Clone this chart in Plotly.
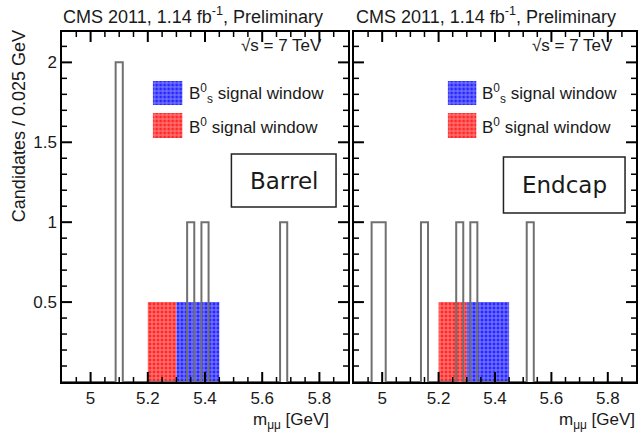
import numpy as np
import plotly.graph_objects as go

# ---------------- data ----------------
bin_width = 0.025
barrel_centers = [5.100, 5.350, 5.400, 5.675]
barrel_counts = [2, 1, 1, 1]
endcap_centers = [4.975, 5.000, 5.150, 5.275, 5.325, 5.525]
endcap_counts = [1, 1, 1, 1, 1, 1]
b0_window = [5.20, 5.30]
bs_window = [5.30, 5.45]
window_height = 0.5
x_range = [4.9, 5.9]
y_range = [0, 2.19]
x_ticks = [5.0, 5.2, 5.4, 5.6, 5.8]
y_ticks = [0.0, 0.5, 1.0, 1.5, 2.0]
y_hidden_labels = {"0": " "}
panel_names = ["Barrel", "Endcap"]

edges = np.arange(4.8875, 5.9125 + 1e-9, bin_width)


def step(centers, counts):
    h = np.zeros(len(edges) - 1)
    for c, n in zip(centers, counts):
        i = int(round((c - edges[0]) / bin_width - 0.5))
        h[i] += n
    xs = np.repeat(edges, 2)[1:-1]
    ys = np.repeat(h, 2)
    return xs, ys


FONT = "Liberation Sans, Arial, sans-serif"
TXT = "#1a1a1a"
RED_BG = "rgb(255,40,40)"
BLUE_BG = "rgb(40,40,255)"

# pixel helpers (plot area: x 62..638, y 32..382)
L, R, T, B = 62, 638, 32, 382
W, H = R - L, B - T


def px(x):
    return (x - L) / W


def py(y):
    return (B - y) / H


def pattern(color):
    return dict(shape="+", fgcolor="rgba(255,255,255,0.85)", bgcolor=color,
                size=4, solidity=0.45)


fig = go.Figure()


def window_bar(win, color, xa, ya):
    return go.Bar(
        x=[(win[0] + win[1]) / 2], y=[window_height], width=[win[1] - win[0]],
        xaxis=xa, yaxis=ya, showlegend=False,
        marker=dict(color=color, line=dict(width=0), pattern=pattern(color)),
        hoverinfo="skip")


panels = [("x", "y", barrel_centers, barrel_counts),
          ("x2", "y2", endcap_centers, endcap_counts)]
for xa, ya, cen, cnt in panels:
    fig.add_trace(window_bar(b0_window, RED_BG, xa, ya))
    fig.add_trace(window_bar(bs_window, BLUE_BG, xa, ya))
    xs, ys = step(cen, cnt)
    fig.add_trace(go.Scatter(x=xs, y=ys, mode="lines", xaxis=xa, yaxis=ya,
                             line=dict(color="#707070", width=2),
                             showlegend=False, hoverinfo="skip"))

# legend patches on hidden axes
leg_axes = [("x3", "y3"), ("x4", "y4")]
for xa, ya in leg_axes:
    fig.add_trace(go.Bar(x=[0], y=[0.42], base=[0.58], width=[1], xaxis=xa, yaxis=ya,
                         showlegend=False, hoverinfo="skip",
                         marker=dict(color=BLUE_BG, line=dict(width=0), pattern=pattern(BLUE_BG))))
    fig.add_trace(go.Bar(x=[0], y=[0.44], base=[0.0], width=[1], xaxis=xa, yaxis=ya,
                         showlegend=False, hoverinfo="skip",
                         marker=dict(color=RED_BG, line=dict(width=0), pattern=pattern(RED_BG))))

axis_common = dict(showline=True, linecolor="black", linewidth=1.5, mirror=True,
                   ticks="", showgrid=False, zeroline=False,
                   tickfont=dict(family=FONT, size=17, color=TXT))
xaxis_ticks = dict(tickmode="linear", tick0=x_ticks[0], dtick=x_ticks[1] - x_ticks[0])
yaxis_ticks = dict(tickmode="linear", tick0=y_ticks[0], dtick=y_ticks[1] - y_ticks[0],
                   labelalias=y_hidden_labels)

LEFT_W, RIGHT_W = 349 - L, R - 355

fig.update_layout(
    width=642, height=437,
    margin=dict(l=L, r=642 - R, t=T, b=437 - B),
    paper_bgcolor="white", plot_bgcolor="white",
    barmode="overlay", showlegend=False,
    xaxis=dict(domain=[0, px(349)], range=x_range, anchor="y", **xaxis_ticks, **axis_common),
    xaxis2=dict(domain=[px(355), 1], range=x_range, anchor="y2", **xaxis_ticks, **axis_common),
    yaxis=dict(domain=[0, 1], range=y_range, anchor="x", **yaxis_ticks, **axis_common),
    yaxis2=dict(domain=[0, 1], range=y_range, anchor="x2", showticklabels=False,
                **yaxis_ticks, **axis_common),
    xaxis3=dict(domain=[px(153), px(183)], range=[-0.5, 0.5], anchor="y3", visible=False),
    yaxis3=dict(domain=[py(138), py(81)], range=[0, 1], anchor="x3", visible=False),
    xaxis4=dict(domain=[px(449), px(478)], range=[-0.5, 0.5], anchor="y4", visible=False),
    yaxis4=dict(domain=[py(138), py(81)], range=[0, 1], anchor="x4", visible=False),
)

ann = []


def text(x, y, s, size=17, xanchor="left", family=FONT, yanchor="middle"):
    ann.append(dict(x=px(x), y=py(y), xref="paper", yref="paper", text=s, showarrow=False,
                    xanchor=xanchor, yanchor=yanchor,
                    font=dict(family=family, size=size, color=TXT)))


title = "CMS 2011, 1.14 fb<sup>-1</sup>, Preliminary"
text(61, 15, title, size=18)
text(355, 15, title, size=18)
text(325, 45, "√s = 7 TeV", size=17, xanchor="right")
text(617, 45, "√s = 7 TeV", size=17, xanchor="right")
# legends
text(187, 93, "B<sup>0</sup><sub>s</sub> signal window", size=17)
text(187, 126, "B<sup>0</sup> signal window", size=17)
text(481, 93, "B<sup>0</sup><sub>s</sub> signal window", size=17)
text(481, 126, "B<sup>0</sup> signal window", size=17)
# axis titles
text(332, 421, "m<sub>μμ</sub> [GeV]", size=17, xanchor="right")
text(639, 421, "m<sub>μμ</sub> [GeV]", size=17, xanchor="right")
ann.append(dict(x=px(19), y=py(28), xref="paper", yref="paper",
                text="Candidates / 0.025 GeV", showarrow=False, textangle=-90,
                xanchor="center", yanchor="top",
                font=dict(family=FONT, size=18, color=TXT)))
# panel labels
text(284.5, 181, panel_names[0], size=23, xanchor="center", family="DejaVu Sans")
text(566, 185, panel_names[1], size=23, xanchor="center", family="DejaVu Sans")
fig.update_layout(annotations=ann)

shapes = []
for (x0, y0, x1, y1) in [(232, 154, 337, 207), (505, 157, 627, 213)]:
    shapes.append(dict(type="rect", xref="paper", yref="paper",
                       x0=px(x0), x1=px(x1), y0=py(y1), y1=py(y0),
                       line=dict(color="#222222", width=1.5), fillcolor="white"))

# inside tick marks on all four sides of both frames (positions from the tick arrays)
x_minor = [v for v in np.round(np.arange(x_range[0] + 0.05, x_range[1] - 0.01, 0.05), 3)
           if all(abs(v - t) > 1e-6 for t in x_ticks)]
y_major = [v for v in y_ticks if v > 0]
y_minor = [v for v in np.round(np.arange(0.1, y_range[1], 0.1), 3)
           if all(abs(v - t) > 1e-6 for t in y_ticks)]
MAJ, MIN = 10, 5
for xa, ya, wpx in [("x", "y", LEFT_W), ("x2", "y2", RIGHT_W)]:
    for vals, ln, lw in [(x_ticks, MAJ, 2), (x_minor, MIN, 1.5)]:
        for v in vals:
            for base, sgn in [(0, 1), (1, -1)]:
                shapes.append(dict(type="line", xref=xa, yref=f"{ya} domain",
                                   x0=float(v), x1=float(v), y0=base, y1=base + sgn * ln / H,
                                   line=dict(color="black", width=lw)))
    for vals, ln, lw in [(y_major, MAJ, 2), (y_minor, MIN, 1.5)]:
        for v in vals:
            for base, sgn in [(0, 1), (1, -1)]:
                shapes.append(dict(type="line", xref=f"{xa} domain", yref=ya,
                                   x0=base, x1=base + sgn * ln / wpx, y0=float(v), y1=float(v),
                                   line=dict(color="black", width=lw)))
fig.update_layout(shapes=shapes)

fig.write_html("out.html")
